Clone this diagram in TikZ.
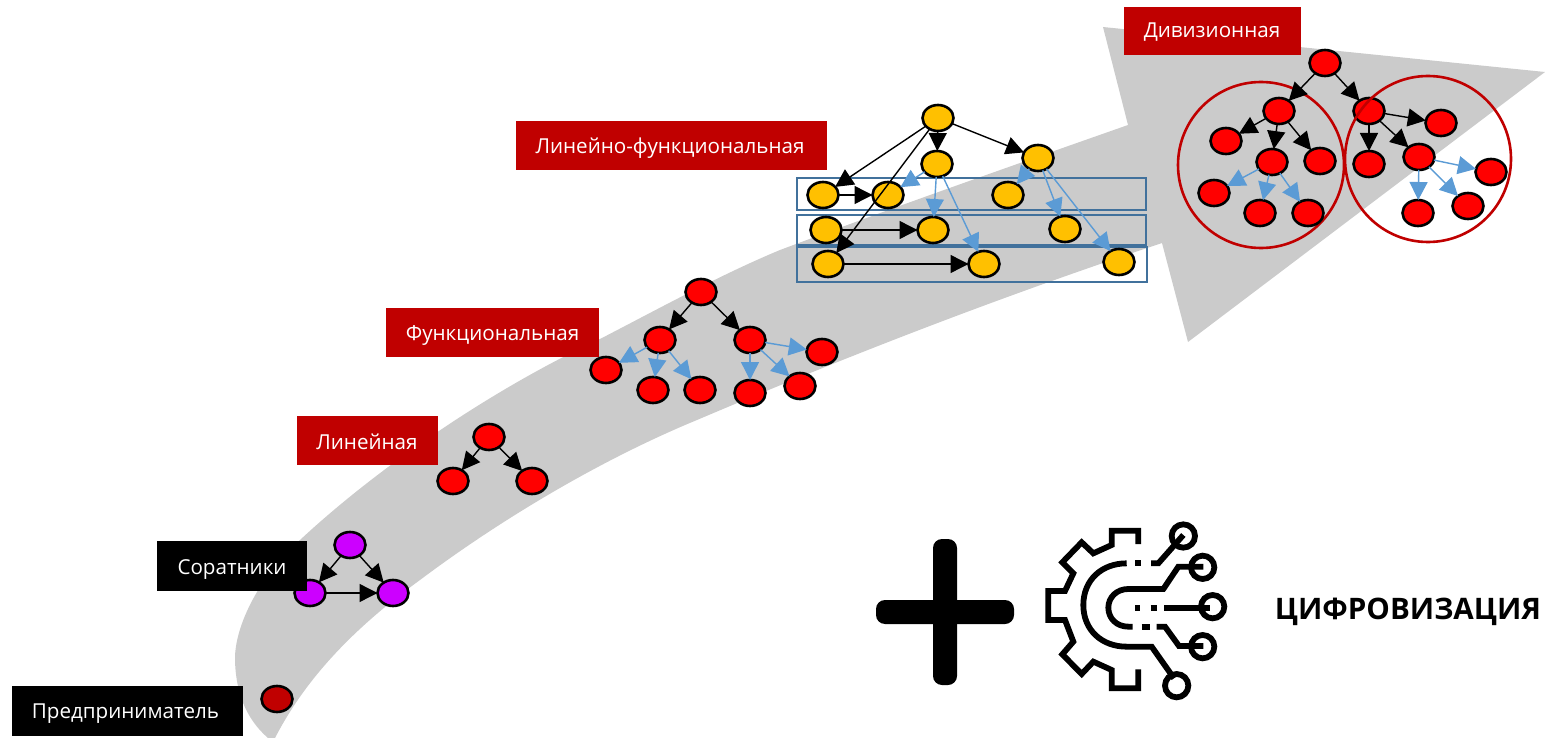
\documentclass[tikz,border=0pt]{standalone}
\usepackage{fontspec}
\setmainfont{Open Sans}
\usetikzlibrary{arrows.meta,shapes.geometric}
\definecolor{bandgray}{HTML}{CBCBCB}
\definecolor{darkred}{HTML}{C00000}
\definecolor{nodered}{HTML}{FF0000}
\definecolor{nodepurple}{HTML}{CC00FF}
\definecolor{nodeyellow}{HTML}{FFC000}
\definecolor{linkblue}{HTML}{5B9BD5}
\definecolor{rowblue}{HTML}{41719C}
\tikzset{
 org/.style={ellipse,draw=black,line width=2.6pt,minimum width=31pt,minimum height=26pt,inner sep=0pt,outer sep=0pt},
 rn/.style={org,fill=nodered},
 pn/.style={org,fill=nodepurple},
 yn/.style={org,fill=nodeyellow},
 bossn/.style={org,fill=darkred},
 lbl/.style={text=white,font=\fontsize{20.6}{24}\selectfont,inner sep=0pt,outer sep=0pt,text height=15pt,text depth=4pt,align=center},
 lk/.style={draw=black,line width=1.4pt,-{Triangle[length=18pt,width=18pt,fill=black]}},
 blk/.style={draw=linkblue,line width=1.4pt,-{Triangle[length=18pt,width=18pt,fill=linkblue]}},
 rowbox/.style={draw=rowblue,line width=2.6pt,inner sep=0pt,outer sep=0pt},
 ring/.style={circle,draw=darkred,line width=2.6pt,inner sep=0pt,minimum size=166pt},
 icon/.style={line width=5.8pt,draw=black,line join=miter,fill=none}
}
\begin{document}
\begin{tikzpicture}[x=1pt,y=-1pt]
\useasboundingbox (0,0) rectangle (1545,738);
% band
\fill[bandgray] (268,738) .. controls (245,718) and (235,690) .. (235,657)
  .. controls (236,620) and (265,570) .. (300,540)
  .. controls (375,470) and (490,390) .. (600,339)
  .. controls (660,308) and (720,275) .. (780,250)
  .. controls (900,205) and (1000,170) .. (1128,125)
  -- (1103,27) -- (1545,72) -- (1188,342) -- (1162,243)
  .. controls (1000,297) and (850,355) .. (697,420)
  .. controls (600,460) and (500,520) .. (420,580)
  .. controls (365,620) and (310,670) .. (275,738) -- cycle;
% row boxes
\node[rowbox,minimum width=349pt,minimum height=32pt] (row1) at (971.5,194) {};
\node[rowbox,minimum width=349pt,minimum height=30pt] (row2) at (971.5,230) {};
\node[rowbox,minimum width=350pt,minimum height=35pt] (row3) at (972,264.5) {};
% rings
\node[ring] (ringa) at (1261,165) {};
% labels
\fill[black] (12,686) rectangle (243,736);
\node[lbl] (t1) at (125.5,713) {Предприниматель};
\fill[darkred] (297,416) rectangle (438,465);
\node[lbl] (t3) at (367,443.5) {Линейная};
\fill[darkred] (386,308) rectangle (599,357);
\node[lbl] (t4) at (492.5,335) {Функциональная};
\fill[darkred] (516,121) rectangle (827,170);
\node[lbl] (t5) at (670,148) {Линейно-функциональная};
\fill[darkred] (1124,7) rectangle (1301,55);
\node[lbl] (t6) at (1212,32.5) {Дивизионная};
% entrepreneur
\node[bossn] (e) at (277,699) {};
% associates
\node[pn] (a1) at (350,545) {};
\node[pn] (a2) at (310,593) {};
\node[pn] (a3) at (393,593) {};
\draw[lk] (a1) -- (a2);
\draw[lk] (a1) -- (a3);
\draw[lk] (a2) -- (a3);
\fill[black] (157,541) rectangle (307,591);
\node[lbl] (t2) at (232,568.5) {Соратники};
% linear
\node[rn] (l1) at (489,437) {};
\node[rn] (l2) at (453,481) {};
\node[rn] (l3) at (532,481) {};
\draw[lk] (l1) -- (l2);
\draw[lk] (l1) -- (l3);
% functional
\node[rn] (f0) at (701,292) {};
\node[rn] (f1) at (660,340) {};
\node[rn] (f2) at (750,340) {};
\node[rn] (f3) at (606,370) {};
\node[rn] (f4) at (653,390) {};
\node[rn] (f5) at (700,390) {};
\node[rn] (f6) at (750,393) {};
\node[rn] (f7) at (800,386) {};
\node[rn] (f8) at (822,352) {};
\draw[lk] (f0) -- (f1);
\draw[lk] (f0) -- (f2);
\foreach \t in {f3,f4,f5} \draw[blk] (f1) -- (\t);
\foreach \t in {f6,f7,f8} \draw[blk] (f2) -- (\t);
% linear-functional
\node[yn] (g0) at (938,118) {};
\node[yn] (g1) at (937,164) {};
\node[yn] (g2) at (1038,158) {};
\node[yn] (r11) at (823,195) {};
\node[yn] (r12) at (888,195) {};
\node[yn] (r13) at (1008,195) {};
\node[yn] (r21) at (826,230) {};
\node[yn] (r22) at (933,230) {};
\node[yn] (r23) at (1065,229) {};
\node[yn] (r31) at (828,264) {};
\node[yn] (r32) at (984,264) {};
\node[yn] (r33) at (1119,262) {};
\draw[lk] (g0) -- (g1);
\draw[lk] (g0) -- (g2);
\draw[lk] (g0) -- (r11);
\draw[lk] (g0) -- (r31);
\draw[blk] (g1) -- (r12);
\draw[blk] (g1) -- (r22);
\draw[blk] (g1) -- (r32);
\draw[blk] (g2) -- (r13);
\draw[blk] (g2) -- (r23);
\draw[blk] (g2) -- (r33);
\draw[lk] (r11) -- (r12);
\draw[lk] (r21) -- (r22);
\draw[lk] (r31) -- (r32);
% divisional
\node[rn] (d0) at (1325,63) {};
\node[rn] (d1) at (1279,111) {};
\node[rn] (d2) at (1369,111) {};
\node[rn] (d3) at (1226,141) {};
\node[rn] (d4) at (1272,162) {};
\node[rn] (d5) at (1320,161) {};
\node[rn] (d6) at (1369,164) {};
\node[rn] (d7) at (1419,157) {};
\node[rn] (d8) at (1441,123) {};
\node[rn] (d9) at (1214,193) {};
\node[rn] (d10) at (1260,213) {};
\node[rn] (d11) at (1308,213) {};
\node[rn] (d12) at (1418,213) {};
\node[rn] (d13) at (1468,206) {};
\node[rn] (d14) at (1491,172) {};
\draw[lk] (d0) -- (d1);
\draw[lk] (d0) -- (d2);
\foreach \t in {d3,d4,d5} \draw[lk] (d1) -- (\t);
\foreach \t in {d6,d7,d8} \draw[lk] (d2) -- (\t);
\foreach \t in {d9,d10,d11} \draw[blk] (d4) -- (\t);
\foreach \t in {d12,d13,d14} \draw[blk] (d7) -- (\t);
% right ring passes over its node
\node[ring] (ringb) at (1428,159) {};
% plus
\fill[black,rounded corners=9pt] (933,539) rectangle (957,685);
\fill[black,rounded corners=9pt] (876,600) rectangle (1014,624);
% icon
\begin{scope}[shift={(1030,510)},x=0.33333pt,y=-0.33333pt]
\draw[icon] (325,102) -- (325,62) -- (245,62) -- (245,105) -- (190,130) -- (155,97) -- (97,157) -- (130,190) -- (105,243) -- (55,243) -- (55,330) -- (105,330) -- (130,395) -- (97,433) -- (155,492) -- (190,455) -- (245,480) -- (245,535) -- (325,535) -- (325,478);
\draw[icon] (290,160) .. controls (215,160) and (160,210) .. (160,285) .. controls (160,360) and (215,410) .. (290,410) -- (365,410) -- (432,505);
\draw[icon] (440,527) circle[radius=35];
\draw[icon] (315,160) -- (333,160);
\draw[icon] (363,160) -- (385,160) -- (460,75);
\draw[icon] (460,78) circle[radius=35];
\draw[icon] (520,170) -- (445,170) -- (400,237) -- (295,237) .. controls (260,237) and (235,262) .. (235,293) .. controls (235,325) and (260,350) .. (295,350) -- (308,350);
\draw[icon] (518,172) circle[radius=35];
\draw[icon] (335,350) -- (360,350);
\draw[icon] (380,350) -- (405,350) -- (447,408) -- (520,408);
\draw[icon] (518,410) circle[radius=35];
\draw[icon] (315,293) -- (330,293);
\draw[icon] (362,293) -- (380,293);
\draw[icon] (402,293) -- (540,293);
\draw[icon] (548,290) circle[radius=35];
\end{scope}
\node[font=\fontsize{29.6}{34}\selectfont\bfseries,inner sep=0pt] (dig) at (1408,612) {ЦИФРОВИЗАЦИЯ};
\end{tikzpicture}
\end{document}
